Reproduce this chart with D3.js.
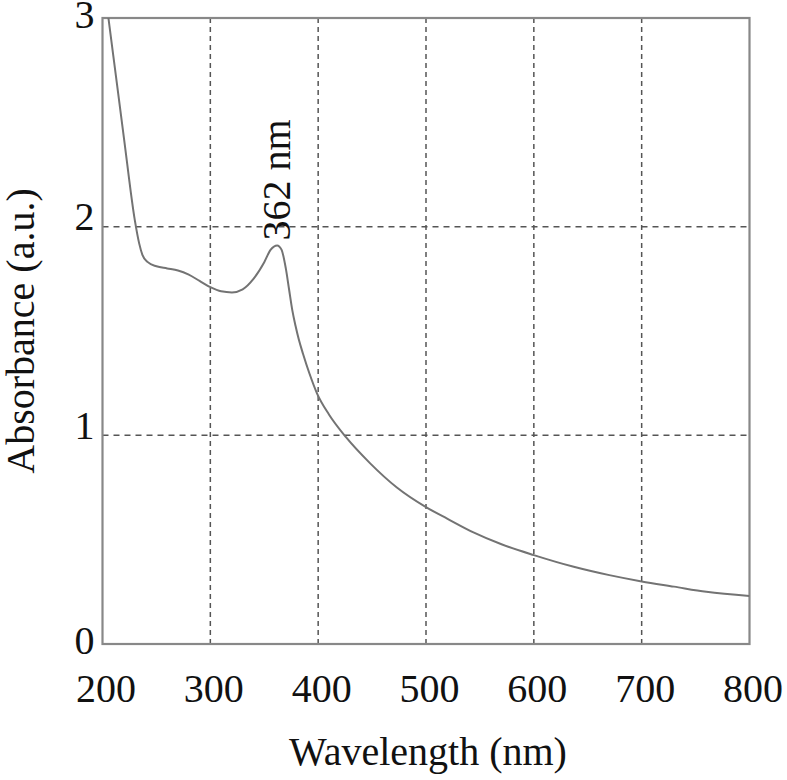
<!DOCTYPE html>
<html>
<head>
<meta charset="utf-8">
<script src="https://cdn.jsdelivr.net/npm/d3@7"></script>
<style>
  body { margin: 0; background: #fff; }
  text { font-family: "Liberation Serif", "Times New Roman", serif; fill: #111; }
</style>
</head>
<body>
<svg width="787" height="780"></svg>
<script>
// spectrum
var wavelength = [203, 210, 220, 230, 234, 237, 242, 250, 260, 270, 280, 290, 300, 310, 320, 330, 340, 350, 356, 362,
                  366, 370, 373, 376, 379, 382, 386, 392, 399, 410, 426, 448, 473, 500, 520, 544, 570, 600, 637, 670, 700, 730, 760, 800];
var absorbance = [3.1, 2.82, 2.42, 2.03, 1.92, 1.865, 1.83, 1.81, 1.80, 1.79, 1.77, 1.74, 1.71, 1.69, 1.685, 1.70, 1.75, 1.83, 1.89, 1.91,
                  1.89, 1.80, 1.70, 1.60, 1.525, 1.46, 1.39, 1.295, 1.20, 1.10, 0.99, 0.867, 0.75, 0.656, 0.60, 0.535, 0.478, 0.426, 0.37, 0.33, 0.30, 0.275, 0.25, 0.23];

var xTicks = [200, 300, 400, 500, 600, 700, 800];
var yTicks = [0, 1, 2, 3];
var peakLabel = "362 nm", peakWl = 362, peakAbs = 1.91;

var plotLeft = 102.5, plotRight = 749.5, plotTop = 18, plotBottom = 644;

var svg = d3.select("svg");

var x = d3.scaleLinear().domain([200, 800]).range([plotLeft, plotRight]);
var y = d3.scaleLinear().domain([0, 3]).range([plotBottom, plotTop]);

// dashed grid
svg.append("g").selectAll("line")
    .data(xTicks.slice(1, -1))
    .enter().append("line")
    .attr("x1", d => x(d)).attr("x2", d => x(d))
    .attr("y1", plotTop).attr("y2", plotBottom)
    .attr("stroke", "#555").attr("stroke-width", 1.5)
    .attr("stroke-dasharray", "5,4");

svg.append("g").selectAll("line")
    .data(yTicks.slice(1, -1))
    .enter().append("line")
    .attr("x1", plotLeft).attr("x2", plotRight)
    .attr("y1", d => y(d)).attr("y2", d => y(d))
    .attr("stroke", "#555").attr("stroke-width", 1.5)
    .attr("stroke-dasharray", "6,5");

// frame
svg.append("rect")
    .attr("x", plotLeft).attr("y", plotTop)
    .attr("width", plotRight - plotLeft).attr("height", plotBottom - plotTop)
    .attr("fill", "none").attr("stroke", "#888").attr("stroke-width", 2.2);

svg.append("clipPath").attr("id", "plot")
  .append("rect")
    .attr("x", plotLeft).attr("y", plotTop)
    .attr("width", plotRight - plotLeft).attr("height", plotBottom - plotTop);

var line = d3.line()
    .x((d, i) => x(wavelength[i]))
    .y(d => y(d))
    .curve(d3.curveMonotoneX);

svg.append("path")
    .datum(absorbance)
    .attr("clip-path", "url(#plot)")
    .attr("d", line)
    .attr("fill", "none")
    .attr("stroke", "#737373")
    .attr("stroke-width", 2);

// axes, labels only
var xAxis = svg.append("g")
    .attr("transform", "translate(0," + plotBottom + ")")
    .call(d3.axisBottom(x).tickValues(xTicks).tickSize(0).tickPadding(0).tickFormat(d3.format("d")));
xAxis.select(".domain").remove();
xAxis.selectAll("text")
    .attr("y", 58).attr("dy", 0)
    .attr("dx", 3)
    .style("font-size", "40px")
    .attr("fill", "#111");

var yAxis = svg.append("g")
    .attr("transform", "translate(" + plotLeft + ",0)")
    .call(d3.axisLeft(y).tickValues(yTicks).tickSize(0).tickPadding(0).tickFormat(d3.format("d")));
yAxis.select(".domain").remove();
yAxis.selectAll("text")
    .attr("x", -8).attr("dy", 0)
    .attr("y", d => (d == 0 || d == 3) ? 9 : 3)
    .style("font-size", "40px")
    .attr("fill", "#111");

svg.append("text")
    .attr("x", (plotLeft + plotRight) / 2 + 2)
    .attr("y", 765)
    .attr("text-anchor", "middle")
    .style("font-size", "40px")
    .text("Wavelength (nm)");

svg.append("text")
    .attr("transform", "translate(34," + (plotTop + plotBottom) / 2 + ") rotate(-90)")
    .attr("text-anchor", "middle")
    .style("font-size", "40px")
    .text("Absorbance (a.u.)");

svg.append("text")
    .attr("transform", "translate(" + (x(peakWl) + 13) + "," + (y(peakAbs) - 5) + ") rotate(-90)")
    .style("font-size", "40px")
    .text(peakLabel);
</script>
</body>
</html>
